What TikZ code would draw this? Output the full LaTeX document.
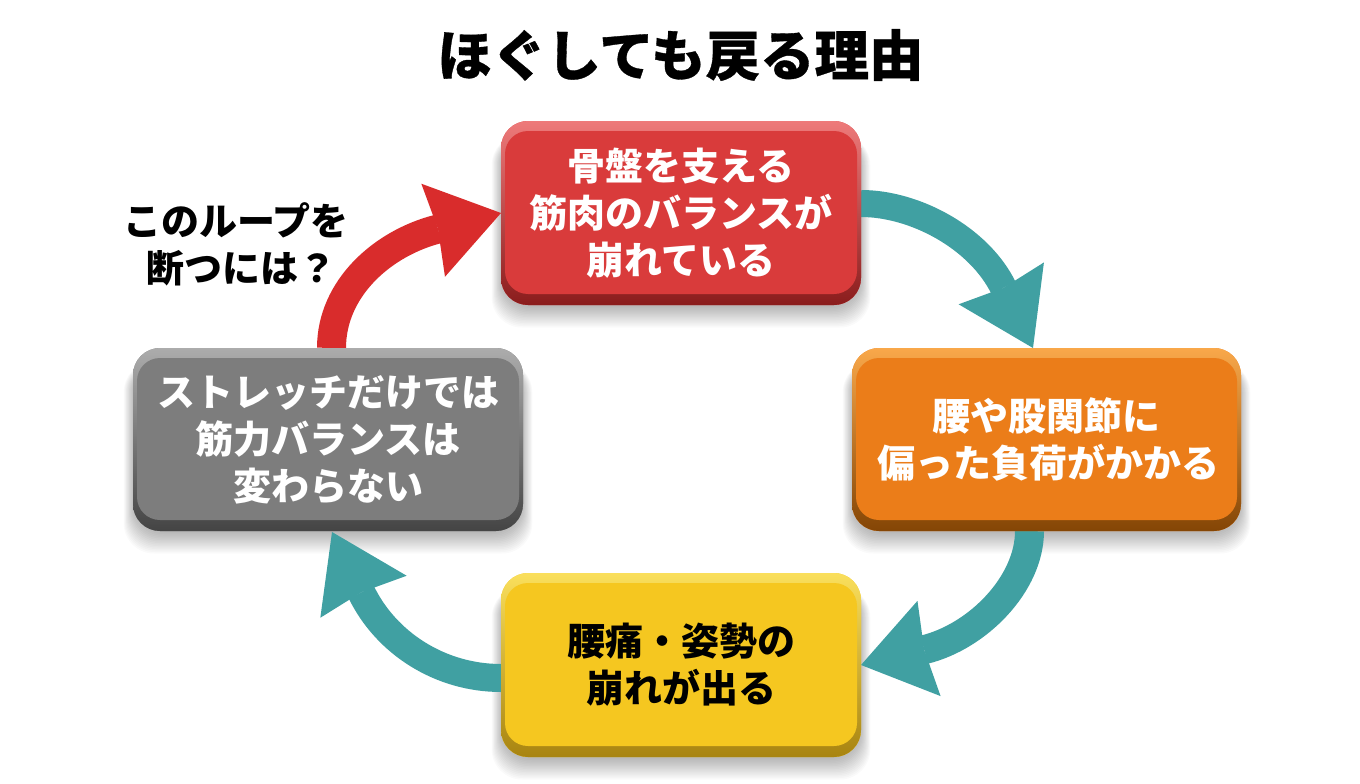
\documentclass[tikz,border=0pt]{standalone}
\usepackage{fontspec}
\setmainfont{Noto Sans CJK JP}
\usetikzlibrary{arrows.meta,calc,backgrounds}
\pgfdeclarelayer{shadowlayer}
\pgfdeclarelayer{arrowlayer}
\pgfsetlayers{shadowlayer,arrowlayer,main}
\definecolor{tealarrow}{HTML}{40A0A2}
\definecolor{redarrow}{HTML}{D92C2C}
\definecolor{redL}{HTML}{EE7A7A}\definecolor{redF}{HTML}{D93B3B}\definecolor{redD}{HTML}{8A1C1C}
\definecolor{orgL}{HTML}{F9A84A}\definecolor{orgF}{HTML}{EB7D19}\definecolor{orgD}{HTML}{844505}
\definecolor{yelL}{HTML}{FADF5C}\definecolor{yelF}{HTML}{F5C720}\definecolor{yelD}{HTML}{A88410}
\definecolor{gryL}{HTML}{ACACAC}\definecolor{gryF}{HTML}{7D7D7D}\definecolor{gryD}{HTML}{444444}
\tikzset{
  bevelbox/.style n args={3}{rectangle, rounded corners=27pt, inner sep=0pt, outer sep=0pt,
    fill=#2, align=center,
    font=\fontsize{38}{47}\selectfont\bfseries,
    path picture={
      \shade[sharp corners, top color=#1, middle color=#2, bottom color=#3]
        (path picture bounding box.north west) rectangle (path picture bounding box.south east);
      \fill[#2, rounded corners=23pt]
        ([xshift=4pt,yshift=-10pt]path picture bounding box.north west) rectangle
        ([xshift=-4pt,yshift=11pt]path picture bounding box.south east);
    }},
  flowarrow/.style n args={4}{draw=#1, line width=#2,
    -{Stealth[length=#3, width=#4, inset=5pt, line width=0pt]}},
  softshadow/.style={fill=black, fill opacity=0.02},
}
\begin{document}
\begin{tikzpicture}[x=1pt,y=-1pt]
\useasboundingbox (0,0) rectangle (1360,784);
\begin{pgfonlayer}{shadowlayer}
\fill[white] (0,0) rectangle (1360,784);
\end{pgfonlayer}
\node[font=\fontsize{54.5}{60}\selectfont\bfseries\addfontfeatures{FakeBold=0.6}, text=black] (title) at (680.5,55) {ほぐしても戻る理由};
\node[bevelbox={redL}{redF}{redD}, text=white, minimum width=360pt, minimum height=184pt] (red) at (681,213) {骨盤を支える\\筋肉のバランスが\\崩れている};
\node[bevelbox={orgL}{orgF}{orgD}, text=white, minimum width=389pt, minimum height=183pt] (orange) at (1046.5,439.5) {腰や股関節に\\\hspace*{4pt}偏った負荷がかかる};
\node[bevelbox={yelL}{yelF}{yelD}, text=black, minimum width=360pt, minimum height=184pt] (yellow) at (681,665) {腰痛・姿勢の\\崩れが出る};
\node[bevelbox={gryL}{gryF}{gryD}, text=white, minimum width=390pt, minimum height=183pt] (gray) at (328,439.5) {ストレッチだけでは\\筋力バランスは\\変わらない};
\node[font=\fontsize{38}{47}\selectfont\bfseries, text=black, align=center] (question) at (236,244) {このループを\\\hspace*{10pt}断つには？};
\begin{pgfonlayer}{shadowlayer}
\foreach \n in {red,orange,yellow,gray}{
  \foreach \i in {1,...,16}{
    \pgfmathsetlengthmacro{\e}{24-1.5*\i}
    \pgfmathsetlengthmacro{\s}{0.5*(24-1.5*\i)-2}
    \fill[softshadow, rounded corners=30pt]
      ([xshift=-\s,yshift=-14pt]\n.north west) rectangle ([xshift=\s,yshift=-\e]\n.south east);
  }
}
\end{pgfonlayer}
\begin{pgfonlayer}{arrowlayer}
\draw[flowarrow={tealarrow}{27pt}{72pt}{95pt}] ($(red.east)+(0,-9.5)$) .. controls +(54,0) and (979,238) .. ($(orange.north)+(-13.5,0)$);
\draw[flowarrow={tealarrow}{29pt}{70pt}{98pt}] ($(orange.south)+(-17,0)$) .. controls +(0,53) and (977.5,636.7) .. (yellow.east);
\draw[flowarrow={tealarrow}{28pt}{72pt}{96pt}] ($(yellow.west)+(0,13)$) .. controls +(-61,0) and (386,643) .. ($(gray.south)+(4,1)$);
\draw[flowarrow={redarrow}{29pt}{70pt}{96pt}] ($(gray.north)+(3.5,0)$) .. controls +(0,-60) and (383,243) .. (red.west);
\end{pgfonlayer}
\end{tikzpicture}
\end{document}
